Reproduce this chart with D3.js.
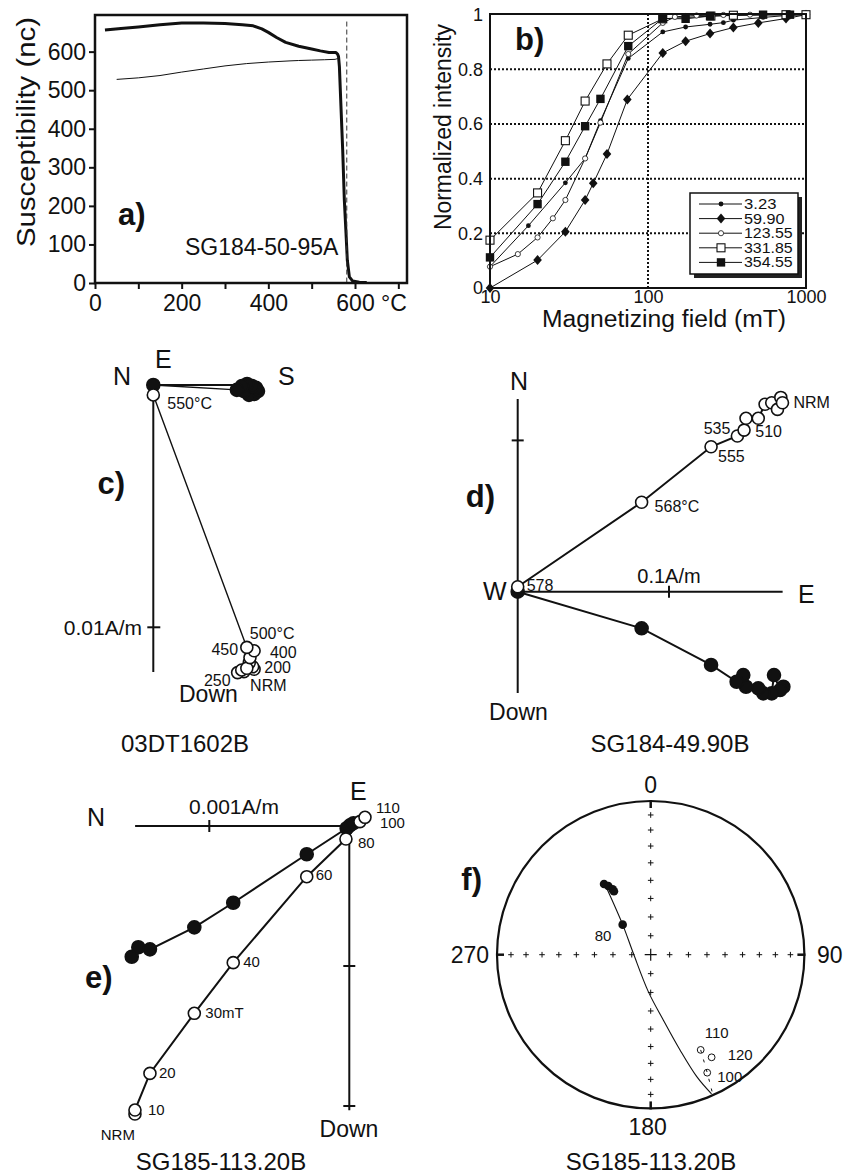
<!DOCTYPE html>
<html><head><meta charset="utf-8">
<script src="https://cdn.jsdelivr.net/npm/d3@7"></script>
<style>
body{margin:0;background:#fff}
svg{display:block}
text{font-family:"Liberation Sans",Arial,Helvetica,sans-serif;fill:#111}
</style>
</head><body>
<script>
// ---------------- DATA ----------------
// Panel a: susceptibility vs temperature
const aHeatT = [23,60,100,150,200,250,300,340,365,385,400,420,440,470,500,520,540,556,560,562,564,567,571.6,575.4,579.3,582.3,587,594.7,610,627];
const aHeatK = [656,660,664,670,674,674,673,670,667,659,650,636,624,614,607,602,598,598,593,587,561,475,345,215,128,59,16,5,2,1];
const aCoolT = [50,100,150,200,250,300,350,400,450,470,500,530,554,560];
const aCoolK = [528,532,538,547,555,563,569,573,576,577,578,579,580,582];
const aCurieT = 581;
const aXTicks = [0,100,200,300,400,500,600,700];
const aXLabels = [0,200,400,600];
const aYTicks = [0,100,200,300,400,500,600];

// Panel b: IRM acquisition
const bNames = ["3.23","59.90","123.55","331.85","354.55"];
const bField_323 = [10,17.5,30,40,50,75,124,173,247,300,347,535,747,1000];
const bVal_323   = [0.078,0.228,0.385,0.474,0.612,0.84,0.937,0.955,0.965,0.971,0.98,0.99,0.997,1.0];
const bField_5990 = [10,20,30,40,45,55,74,124,173,247,347,499,747,1000];
const bVal_5990   = [0.0,0.102,0.206,0.322,0.383,0.49,0.69,0.86,0.903,0.931,0.953,0.97,0.986,1.0];
const bField_12355 = [10,15,20,25,30,40,50,75,124,148,173,203,247,300,347,442,537,747,1000];
const bVal_12355   = [0.078,0.124,0.185,0.255,0.322,0.474,0.605,0.856,0.97,0.992,0.995,0.997,0.998,0.999,1,1,1,1,1];
const bField_33185 = [10,20,30,40,55,75,124,250,347,747,1000];
const bVal_33185   = [0.175,0.348,0.539,0.684,0.82,0.925,0.985,0.995,0.998,1,1];
const bField_35455 = [10,20,30,40,50,75,124,173,247,535,792];
const bVal_35455   = [0.112,0.307,0.462,0.592,0.692,0.885,0.986,0.985,0.995,1.0,1.0];
const bXTicks = [10,100,1000];
const bYTicks = [0,0.2,0.4,0.6,0.8,1];

// Panel c: Zijderveld 03DT1602B (A/m)
const cSteps = ["NRM","100","150","200","250","300","350","400","450","500","550"];
const cVertS = [4.16e-3,3.74e-3,4.10e-3,3.96e-3,3.48e-3,3.65e-3,3.86e-3,3.99e-3,4.16e-3,3.86e-3,0.0];
const cVertD = [11.73e-3,11.83e-3,11.63e-3,11.46e-3,11.87e-3,11.76e-3,11.69e-3,11.25e-3,10.97e-3,10.83e-3,0.41e-3];
const cHorS  = [4.16e-3,3.95e-3,4.32e-3,4.24e-3,3.58e-3,3.74e-3,4.07e-3,3.87e-3,3.66e-3,3.45e-3,0.0];
const cHorE  = [-0.37e-3,-0.41e-3,-0.25e-3,-0.12e-3,-0.17e-3,-0.25e-3,-0.04e-3,0.04e-3,-0.04e-3,-0.2e-3,0.0];

// Panel d: Zijderveld SG184-49.90B (A/m)
const dSteps = ["NRM","200","300","400","450","510","520","530","535","555","568","578"];
const dOpenE = [0.1750,0.1739,0.1717,0.1679,0.1635,0.1590,0.1509,0.1496,0.1452,0.1278,0.0819,0.0];
const dOpenN = [0.1249,0.1284,0.1205,0.1249,0.1239,0.1146,0.1146,0.1068,0.1029,0.0958,0.0591,0.0033];
const dFillE = [0.1756,0.1734,0.1694,0.1679,0.1623,0.1590,0.1509,0.1491,0.1447,0.1278,0.0819,0.0];
const dFillD = [0.0628,0.0650,0.0551,0.0672,0.0672,0.0639,0.0628,0.0551,0.0595,0.0484,0.0242,0.0];

// Panel e: Zijderveld SG185-113.20B (A/m)
const eSteps = ["NRM","10","20","30mT","40","60","80","100","110"];
const eOpenN = [1.531e-3,1.531e-3,1.424e-3,1.107e-3,0.829e-3,0.304e-3,0.024e-3,-0.076e-3,-0.112e-3];
const eOpenD = [2.057e-3,2.029e-3,1.767e-3,1.338e-3,0.976e-3,0.362e-3,0.093e-3,-0.031e-3,-0.062e-3];
const eFillN = [1.554e-3,1.507e-3,1.424e-3,1.107e-3,0.829e-3,0.304e-3,0.019e-3,-0.005e-3,-0.03e-3];
const eFillE = [-0.934e-3,-0.866e-3,-0.881e-3,-0.724e-3,-0.548e-3,-0.202e-3,-0.016e-3,0.005e-3,0.02e-3];

// Panel f: equal-area stereonet
const fFillDec = [326.6,328.3,329.8,329.9,317];
const fFillInc = [44.1,46.4,49.3,50.6,68.2];
const fOpenLabels = ["110","120","100"];
const fOpenDec = [152.3,149.3,154.4];
const fOpenInc = [-30.7,-23.4,-16];
const fArcDec = [326.5,317,274.6,183.7,169.1,162.9,159.3,156.4];
const fArcInc = [47,68.2,80.8,70.4,54.4,35.4,16.3,1.3];
const fDashDec = [152.3,154.4,156.0];
const fDashInc = [-30.7,-16,-1];
const fTickIncs = [10,20,30,40,50,60,70,80];
const fCardinals = [0,90,180,270];

// ---------------- DRAW ----------------
const svg = d3.select("body").append("svg").attr("width",856).attr("height",1174);
const zip = (a,b)=>a.map((v,i)=>[v,b[i]]);

function txt(g,x,y,s,o={}){
  const t=g.append("text").attr("x",x).attr("y",y).text(s)
    .attr("font-size",o.size||16).attr("text-anchor",o.anchor||"start");
  if(o.weight) t.attr("font-weight",o.weight);
  if(o.rotate) t.attr("transform",`rotate(${o.rotate},${x},${y})`);
  if(o.len) t.attr("textLength",o.len).attr("lengthAdjust","spacingAndGlyphs");
  return t;
}
function styleAxis(g,size){
  g.attr("font-size",size).attr("font-family",null);
  g.select(".domain").remove();
  g.selectAll("line").attr("stroke","#111").attr("stroke-width",2);
  g.selectAll("text").attr("fill","#111");
}

// ===== Panel a =====
{
  const g=svg.append("g");
  const x=d3.scaleLinear().domain([0,720]).range([95,407]);
  const y=d3.scaleLinear().domain([0,695]).range([283,15]);
  g.append("g").attr("transform","translate(0,283)")
    .call(d3.axisBottom(x).tickValues(aXTicks).tickSize(6).tickPadding(6)
      .tickFormat(d=>aXLabels.includes(d)?String(d):""))
    .call(a=>styleAxis(a,23));
  g.append("g").attr("transform","translate(95,0)")
    .call(d3.axisLeft(y).tickValues(aYTicks).tickSize(6).tickPadding(3))
    .call(a=>styleAxis(a,23));
  const line=d3.line().x(d=>x(d[0])).y(d=>y(d[1]));
  g.append("path").attr("d",line(zip(aCoolT,aCoolK))).attr("fill","none").attr("stroke","#111").attr("stroke-width",1);
  g.append("path").attr("d",line(zip(aHeatT,aHeatK))).attr("fill","none").attr("stroke","#111").attr("stroke-width",3).attr("stroke-linejoin","round");
  g.append("line").attr("x1",x(aCurieT)).attr("x2",x(aCurieT)).attr("y1",y(678)).attr("y2",y(0))
    .attr("stroke","#333").attr("stroke-width",1).attr("stroke-dasharray","5,3");
  g.append("rect").attr("x",95).attr("y",15).attr("width",312).attr("height",268)
    .attr("fill","none").attr("stroke","#111").attr("stroke-width",2.5);
  txt(g,381,311,"°C",{size:23});
  txt(g,35,132,"Susceptibility (nc)",{size:25,anchor:"middle",rotate:-90,len:230});
  txt(g,118,225,"a)",{size:31,weight:"bold"});
  txt(g,185,255,"SG184-50-95A",{size:23});
}

// ===== Panel b =====
{
  const g=svg.append("g");
  const x=d3.scaleLog().domain([10,1000]).range([490,806]);
  const y=d3.scaleLinear().domain([0,1]).range([288,14.7]);
  [0.2,0.4,0.6,0.8].forEach(v=>g.append("line").attr("x1",490).attr("x2",806).attr("y1",y(v)).attr("y2",y(v))
    .attr("stroke","#111").attr("stroke-width",2).attr("stroke-dasharray","2,2"));
  g.append("line").attr("x1",x(100)).attr("x2",x(100)).attr("y1",14).attr("y2",288)
    .attr("stroke","#111").attr("stroke-width",2).attr("stroke-dasharray","2,2");
  g.append("g").attr("transform","translate(0,288)")
    .call(d3.axisBottom(x).tickValues(bXTicks).tickFormat(d3.format("d")).tickSize(0).tickPadding(2))
    .call(a=>styleAxis(a,18));
  g.append("g").attr("transform","translate(490,0)")
    .call(d3.axisLeft(y).tickValues(bYTicks).tickFormat(d=>d===0?"0":d===1?"1":d3.format(".1f")(d)).tickSize(0).tickPadding(7))
    .call(a=>styleAxis(a,18));
  const series=[
    {name:bNames[0],f:bField_323,v:bVal_323,m:"dot"},
    {name:bNames[1],f:bField_5990,v:bVal_5990,m:"diamond"},
    {name:bNames[2],f:bField_12355,v:bVal_12355,m:"ocircle"},
    {name:bNames[3],f:bField_33185,v:bVal_33185,m:"osquare"},
    {name:bNames[4],f:bField_35455,v:bVal_35455,m:"fsquare"}
  ];
  function marker(sel,m){
    if(m==="dot") sel.append("circle").attr("r",2.4).attr("fill","#111");
    else if(m==="ocircle") sel.append("circle").attr("r",2.6).attr("fill","#fff").attr("stroke","#111").attr("stroke-width",0.8);
    else if(m==="diamond") sel.append("path").attr("d","M0,-5L4.3,0L0,5L-4.3,0Z").attr("fill","#111");
    else if(m==="osquare") sel.append("rect").attr("x",-4).attr("y",-4).attr("width",8).attr("height",8).attr("fill","#fff").attr("stroke","#111").attr("stroke-width",1.1);
    else if(m==="fsquare") sel.append("rect").attr("x",-4.2).attr("y",-4.2).attr("width",8.4).attr("height",8.4).attr("fill","#111");
  }
  const line=d3.line().x(d=>x(d[0])).y(d=>y(d[1]));
  series.forEach(s=>{
    g.append("path").attr("d",line(zip(s.f,s.v))).attr("fill","none").attr("stroke","#111").attr("stroke-width",1);
  });
  series.forEach(s=>{
    zip(s.f,s.v).forEach(p=>{
      const m=g.append("g").attr("transform",`translate(${x(p[0])},${y(p[1])})`);
      marker(m,s.m);
    });
  });
  g.append("rect").attr("x",490).attr("y",14).attr("width",316).attr("height",274)
    .attr("fill","none").attr("stroke","#111").attr("stroke-width",2);
  const lg=g.append("g");
  lg.append("rect").attr("x",694).attr("y",197).attr("width",108).attr("height",81).attr("fill","#222");
  lg.append("rect").attr("x",690).attr("y",193).attr("width",108).attr("height",81).attr("fill","#fff").attr("stroke","#111").attr("stroke-width",1.5);
  series.forEach((s,i)=>{
    const yy=204+i*14.6;
    lg.append("line").attr("x1",699).attr("x2",742).attr("y1",yy).attr("y2",yy).attr("stroke","#111").attr("stroke-width",1);
    marker(lg.append("g").attr("transform",`translate(721,${yy})`),s.m);
    txt(lg,744,yy+5,s.name,{size:15,len:s.name.length*8.1});
  });
  txt(g,451,127,"Normalized intensity",{size:23,anchor:"middle",rotate:-90,len:206});
  txt(g,664,327,"Magnetizing field (mT)",{size:23,anchor:"middle",len:244});
  txt(g,515,50,"b)",{size:31,weight:"bold"});
}

function dot(g,cx,cy,r,filled,sw){
  return g.append("circle").attr("cx",cx).attr("cy",cy).attr("r",r)
    .attr("fill",filled?"#111":"#fff").attr("stroke","#111").attr("stroke-width",sw||1.6);
}

// ===== Panel c =====
{
  const g=svg.append("g");
  const ox=153.3, oy=385;
  const x=d3.scaleLinear().domain([0,0.01]).range([ox,ox+242.3]);
  const yD=d3.scaleLinear().domain([0,0.01]).range([oy,oy+242.3]);
  const yE=d3.scaleLinear().domain([0,0.01]).range([oy,oy-242.3]);
  g.append("line").attr("x1",x(0)).attr("x2",x(0)).attr("y1",yD(0)).attr("y2",yD(0.01184)).attr("stroke","#111").attr("stroke-width",2);
  g.append("line").attr("x1",x(0)).attr("x2",x(0.004)).attr("y1",yE(0)).attr("y2",yE(0)).attr("stroke","#111").attr("stroke-width",1.8);
  g.append("line").attr("x1",x(0)-6).attr("x2",x(0)+7).attr("y1",yD(0.01)).attr("y2",yD(0.01)).attr("stroke","#111").attr("stroke-width",2);
  const lv=d3.line().x(d=>x(d[0])).y(d=>yD(d[1]));
  const lh=d3.line().x(d=>x(d[0])).y(d=>yE(d[1]));
  const V=zip(cVertS,cVertD), Hh=zip(cHorS,cHorE);
  g.append("path").attr("d",lh(Hh)).attr("fill","none").attr("stroke","#111").attr("stroke-width",1.4);
  g.append("path").attr("d",lv(V)).attr("fill","none").attr("stroke","#111").attr("stroke-width",1.4);
  Hh.forEach(p=>dot(g,x(p[0]),yE(p[1]),6.5,true));
  V.forEach(p=>dot(g,x(p[0]),yD(p[1]),6,false));
  const lab=[["550°C",10,14,14,"start"],["500°C",9,3,-8,"start"],["450",8,-16,4,"end"],["400",7,20,0,"start"],
             ["200",3,15,10,"start"],["250",4,-7,13,"end"],["NRM",0,-4,22,"start"]];
  lab.forEach(l=>{const p=V[l[1]]; txt(g,x(p[0])+l[2],yD(p[1])+l[3],l[0],{size:16,anchor:l[4]});});
  txt(g,113,385,"N",{size:25});
  txt(g,155,368,"E",{size:25});
  txt(g,278,385,"S",{size:25});
  txt(g,142,635,"0.01A/m",{size:21,anchor:"end"});
  txt(g,179,702,"Down",{size:23});
  txt(g,125,494,"c)",{size:31,weight:"bold",anchor:"end"});
  txt(g,185,752,"03DT1602B",{size:24,anchor:"middle"});
}

// ===== Panel d =====
{
  const g=svg.append("g");
  const ox=517.7, oy=591.7, s=151.3;
  const x=d3.scaleLinear().domain([0,0.1]).range([ox,ox+s]);
  const yN=d3.scaleLinear().domain([0,0.1]).range([oy,oy-s]);
  const yD=d3.scaleLinear().domain([0,0.1]).range([oy,oy+s]);
  g.append("line").attr("x1",x(0)).attr("x2",x(0)).attr("y1",yN(0.1274)).attr("y2",yD(0.067)).attr("stroke","#111").attr("stroke-width",2);
  g.append("line").attr("x1",x(0)).attr("x2",x(0.1751)).attr("y1",oy).attr("y2",oy).attr("stroke","#111").attr("stroke-width",2);
  g.append("line").attr("x1",x(0)-6).attr("x2",x(0)+6).attr("y1",yN(0.1)).attr("y2",yN(0.1)).attr("stroke","#111").attr("stroke-width",2);
  g.append("line").attr("x1",x(0.1)).attr("x2",x(0.1)).attr("y1",oy-6).attr("y2",oy+6).attr("stroke","#111").attr("stroke-width",2);
  const O=zip(dOpenE,dOpenN), F=zip(dFillE,dFillD);
  g.append("path").attr("d",d3.line().x(d=>x(d[0])).y(d=>yD(d[1]))(F)).attr("fill","none").attr("stroke","#111").attr("stroke-width",2);
  g.append("path").attr("d",d3.line().x(d=>x(d[0])).y(d=>yN(d[1]))(O)).attr("fill","none").attr("stroke","#111").attr("stroke-width",2);
  F.forEach(p=>dot(g,x(p[0]),yD(p[1]),6.5,true));
  O.slice().reverse().forEach(p=>dot(g,x(p[0]),yN(p[1]),6,false));
  const lab=[["578",11,9,4,"start"],["568°C",10,13,10,"start"],["555",9,7,15,"start"],["535",8,-7,-2,"end"],
             ["510",5,-3,19,"start"],["NRM",0,11,5,"start"]];
  lab.forEach(l=>{const p=O[l[1]]; txt(g,x(p[0])+l[2],yN(p[1])+l[3],l[0],{size:16,anchor:l[4]});});
  txt(g,519,390,"N",{size:25,anchor:"middle"});
  txt(g,483,600,"W",{size:25});
  txt(g,798,603,"E",{size:25});
  txt(g,x(0.1),583,"0.1A/m",{size:20,anchor:"middle"});
  txt(g,518.5,720,"Down",{size:23,anchor:"middle"});
  txt(g,495,507,"d)",{size:31,weight:"bold",anchor:"end"});
  txt(g,670,752,"SG184-49.90B",{size:24,anchor:"middle"});
}

// ===== Panel e =====
{
  const g=svg.append("g");
  const ox=349.3, oy=826, s=140;
  const x=d3.scaleLinear().domain([0,0.001]).range([ox,ox-s]);
  const yE=d3.scaleLinear().domain([0,0.001]).range([oy,oy-s]);
  const yD=d3.scaleLinear().domain([0,0.001]).range([oy,oy+s]);
  g.append("line").attr("x1",x(0.00153)).attr("x2",x(0)).attr("y1",oy).attr("y2",oy).attr("stroke","#111").attr("stroke-width",2);
  g.append("line").attr("x1",ox).attr("x2",ox).attr("y1",yD(-0.00004)).attr("y2",yD(0.00203)).attr("stroke","#111").attr("stroke-width",2);
  g.append("line").attr("x1",x(0.001)).attr("x2",x(0.001)).attr("y1",oy-6).attr("y2",oy+6).attr("stroke","#111").attr("stroke-width",2);
  [0.001,0.002].forEach(v=>g.append("line").attr("x1",ox-6).attr("x2",ox+6).attr("y1",yD(v)).attr("y2",yD(v)).attr("stroke","#111").attr("stroke-width",2));
  const O=zip(eOpenN,eOpenD), F=zip(eFillN,eFillE);
  g.append("path").attr("d",d3.line().x(d=>x(d[0])).y(d=>yE(d[1]))(F)).attr("fill","none").attr("stroke","#111").attr("stroke-width",2);
  g.append("path").attr("d",d3.line().x(d=>x(d[0])).y(d=>yD(d[1]))(O)).attr("fill","none").attr("stroke","#111").attr("stroke-width",2);
  F.forEach(p=>dot(g,x(p[0]),yE(p[1]),6.5,true));
  O.forEach(p=>dot(g,x(p[0]),yD(p[1]),6,false));
  const lab=[["110",8,11,-4,"start"],["100",7,20,6,"start"],["80",6,12,9,"start"],["60",5,9,3,"start"],
             ["40",4,10,4,"start"],["30mT",3,11,5,"start"],["20",2,9,5,"start"],["10",1,13,5,"start"],["NRM",0,0,26,"end"]];
  lab.forEach(l=>{const p=O[l[1]]; txt(g,x(p[0])+l[2],yD(p[1])+l[3],l[0],{size:15,anchor:l[4]});});
  txt(g,87,826,"N",{size:25});
  txt(g,350,800,"E",{size:25});
  txt(g,189,814,"0.001A/m",{size:21});
  txt(g,349,1137,"Down",{size:23,anchor:"middle"});
  txt(g,85,988,"e)",{size:31,weight:"bold"});
  txt(g,221,1170,"SG185-113.20B",{size:24,anchor:"middle"});
}

// ===== Panel f =====
{
  const g=svg.append("g");
  const cx=650.7, cy=954.7, R=153.7;
  const rs=d3.scaleLinear().domain([0,1]).range([0,R]);
  function proj(dec,inc){
    const r=rs(Math.SQRT2*Math.sin((90-Math.abs(inc))/2*Math.PI/180));
    const a=dec*Math.PI/180;
    return [cx+r*Math.sin(a), cy-r*Math.cos(a)];
  }
  g.append("circle").attr("cx",cx).attr("cy",cy).attr("r",R).attr("fill","none").attr("stroke","#111").attr("stroke-width",2.2);
  fCardinals.forEach(d=>{
    const a=d*Math.PI/180;
    g.append("line").attr("x1",cx+(R-7)*Math.sin(a)).attr("y1",cy-(R-7)*Math.cos(a))
      .attr("x2",cx+(R+1)*Math.sin(a)).attr("y2",cy-(R+1)*Math.cos(a)).attr("stroke","#111").attr("stroke-width",2.5);
    fTickIncs.forEach(i=>{
      const p=proj(d,i);
      g.append("path").attr("d",`M${p[0]-2.8},${p[1]}h5.6M${p[0]},${p[1]-2.8}v5.6`).attr("stroke","#111").attr("stroke-width",1);
    });
  });
  g.append("path").attr("d",`M${cx-6},${cy}h12M${cx},${cy-6}v12`).attr("stroke","#111").attr("stroke-width",1.2);
  const line=d3.line().x(d=>d[0]).y(d=>d[1]).curve(d3.curveCatmullRom);
  g.append("path").attr("d",line(fArcDec.map((d,i)=>proj(d,fArcInc[i])))).attr("fill","none").attr("stroke","#111").attr("stroke-width",1.1);
  g.append("path").attr("d",d3.line().x(d=>d[0]).y(d=>d[1])(fDashDec.map((d,i)=>proj(d,fDashInc[i]))))
    .attr("fill","none").attr("stroke","#111").attr("stroke-width",1).attr("stroke-dasharray","3,7");
  fFillDec.forEach((d,i)=>{const p=proj(d,fFillInc[i]); g.append("circle").attr("cx",p[0]).attr("cy",p[1]).attr("r",4.3).attr("fill","#111");});
  fOpenDec.forEach((d,i)=>{const p=proj(d,fOpenInc[i]); g.append("circle").attr("cx",p[0]).attr("cy",p[1]).attr("r",3.4).attr("fill","none").attr("stroke","#111").attr("stroke-width",1);});
  const pl=proj(fFillDec[4],fFillInc[4]);
  txt(g,pl[0]-28,pl[1]+16,"80",{size:15});
  const offs=[[4,-12],[16,3],[10,9]];
  fOpenDec.forEach((d,i)=>{const p=proj(d,fOpenInc[i]); txt(g,p[0]+offs[i][0],p[1]+offs[i][1],fOpenLabels[i],{size:15});});
  txt(g,cx,793,"0",{size:23,anchor:"middle"});
  txt(g,817,963,"90",{size:23});
  txt(g,cx-3,1135,"180",{size:23,anchor:"middle"});
  txt(g,489,963,"270",{size:23,anchor:"end"});
  txt(g,482,890,"f)",{size:31,weight:"bold",anchor:"end"});
  txt(g,651,1170,"SG185-113.20B",{size:24,anchor:"middle"});
}
</script>
</body></html>
